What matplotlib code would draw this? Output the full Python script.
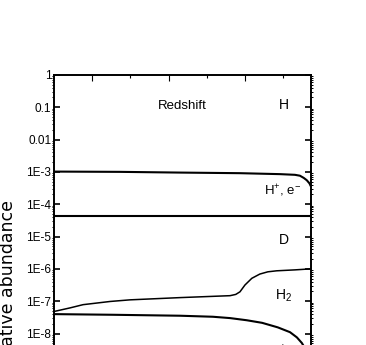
import matplotlib
matplotlib.use("Agg")
import matplotlib.pyplot as plt
from matplotlib.ticker import FixedLocator, FuncFormatter, LogLocator, NullFormatter
import numpy as np

plt.rcParams['font.family'] = ['Liberation Sans Narrow', 'Liberation Sans', 'DejaVu Sans']
plt.rcParams['mathtext.fontset'] = 'custom'
plt.rcParams['mathtext.rm'] = 'Liberation Sans'
plt.rcParams['mathtext.it'] = 'Liberation Sans:italic'

# data (x in plot units, y = relative abundance)
x_hplus = [0, 1.73, 3.30, 4.87, 5.92, 6.31, 6.44, 6.54, 6.62, 6.69, 6.73]
y_hplus = [1.02e-3, 1.0e-3, 9.5e-4, 9.1e-4, 8.5e-4, 8.1e-4, 7.6e-4, 6.5e-4, 5.5e-4, 4.4e-4, 3.5e-4]

x_d = [0, 3.3, 6.73]
y_d = [4.3e-5, 4.3e-5, 4.3e-5]

x_h2 = [0, 0.42, 0.76, 1.47, 1.99, 3.30, 4.61, 4.76, 4.87, 5.00, 5.18, 5.39, 5.60, 5.83, 6.31, 6.73]
y_h2 = [4.8e-8, 6.2e-8, 7.8e-8, 9.8e-8, 1.10e-7, 1.29e-7, 1.48e-7, 1.62e-7, 1.95e-7, 3.16e-7,
        5.1e-7, 6.9e-7, 8.1e-7, 8.7e-7, 9.3e-7, 1.0e-6]

x_ion = [0, 1.54, 3.30, 4.16, 4.61, 5.05, 5.45, 5.86, 6.18, 6.36, 6.49, 6.60, 6.70, 6.73]
y_ion = [3.98e-8, 3.8e-8, 3.55e-8, 3.3e-8, 3.0e-8, 2.57e-8, 2.14e-8, 1.55e-8, 1.10e-8, 7.6e-9,
         5.1e-9, 3.1e-9, 1.5e-9, 8e-10]

y_ticks = [10.0 ** -k for k in range(0, 15)]


def fmt(v, pos):
    k = int(round(-np.log10(v)))
    if k == 0:
        return "1"
    if k == 1:
        return "0.1"
    if k == 2:
        return "0.01"
    return "1E-%d" % k


fig = plt.figure(figsize=(3.66, 3.45), dpi=100)
ax = fig.add_axes([54 / 366, -0.529, 257 / 366, 1.312])

ax.plot(x_hplus, y_hplus, color="black", lw=1.5)
ax.plot(x_d, y_d, color="black", lw=1.5)
ax.plot(x_h2, y_h2, color="black", lw=1.1)
ax.plot(x_ion, y_ion, color="black", lw=1.5)

ax.set_yscale("log")
ax.set_ylim(1e-14, 1)
ax.set_xlim(0, 6.73)

ax.yaxis.set_major_locator(FixedLocator(y_ticks))
ax.yaxis.set_major_formatter(FuncFormatter(fmt))
ax.yaxis.set_minor_locator(LogLocator(base=10, subs=np.arange(2, 10), numticks=30))
ax.yaxis.set_minor_formatter(NullFormatter())
ax.xaxis.set_major_locator(FixedLocator([1, 3, 5]))
ax.xaxis.set_minor_locator(FixedLocator([2, 4, 6]))

ax.tick_params(axis="y", which="major", direction="in", length=4, width=1.2,
               left=True, right=True, labelsize=8.5, pad=2)
ax.tick_params(axis="y", which="minor", direction="out", length=1.5, width=0.7,
               left=True, right=True)
ax.tick_params(axis="x", which="major", direction="in", length=4.5, width=0.8,
               top=True, bottom=True, labelbottom=False)
ax.tick_params(axis="x", which="minor", direction="in", length=2.5, width=0.8,
               top=True, bottom=True)
for s in ax.spines.values():
    s.set_linewidth(1.4)

ax.text(3.35, 10 ** -0.96, "Redshift", fontsize=9.5, ha="center", va="center")
ax.text(6.02, 10 ** -0.93, "H", fontsize=10, ha="center", va="center")
ax.text(5.99, 10 ** -3.59, r"H$^{+}$, e$^{-}$", fontsize=9.5, ha="center", va="center")
ax.text(6.02, 10 ** -5.10, "D", fontsize=10, ha="center", va="center")
ax.text(6.02, 10 ** -6.84, r"H$_{2}$", fontsize=10, ha="center", va="center")
ax.text(5.86, 10 ** -8.30, r"H$_{2}^{+}$", fontsize=10, ha="center", va="top")

fig.text(8 / 366, 1 - 200 / 345, "Relative abundance", rotation=90, ha="center", va="top",
         fontsize=12.5, family="DejaVu Sans")

fig.savefig("out.png", dpi=100)
